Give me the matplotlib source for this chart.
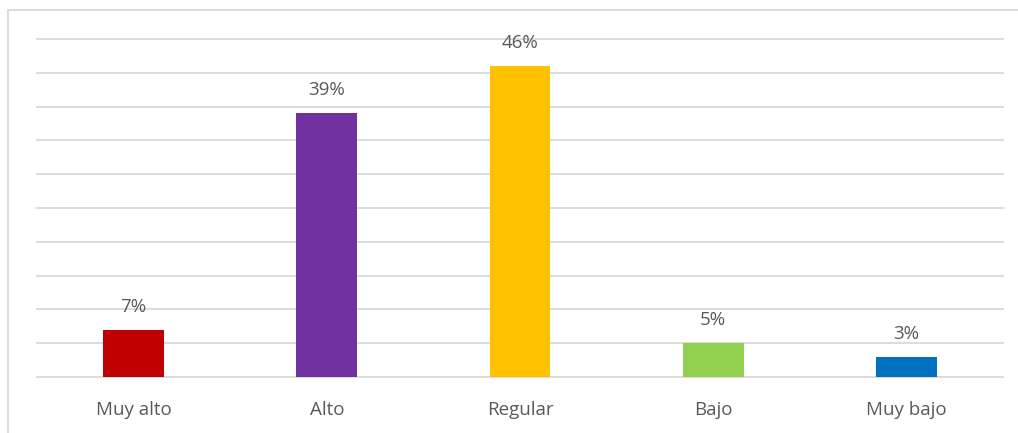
import matplotlib.pyplot as plt
from matplotlib.patches import Rectangle

categorias = ["Muy alto", "Alto", "Regular", "Bajo", "Muy bajo"]
porcentajes = [7, 39, 46, 5, 3]
colores = ["#C00000", "#7030A0", "#FFC000", "#92D050", "#0070C0"]

plt.rcParams['font.family'] = ['Open Sans', 'DejaVu Sans']
texto = "#595959"

fig = plt.figure(figsize=(10.18, 4.33), dpi=100)
ax = fig.add_axes([37/1018, 1 - 377/433, 966/1018, 338/433])

x = range(len(categorias))
ax.bar(x, porcentajes, width=0.315, color=colores, zorder=3)
for xi, v in zip(x, porcentajes):
    ax.annotate(f"{v}%", (xi, v), xytext=(0, 10), textcoords="offset points",
                ha="center", va="bottom", fontsize=13.5, color=texto)

ax.set_xlim(-0.5, len(categorias) - 0.5)
ax.set_ylim(0, 50)
ax.set_yticks(range(0, 51, 5))
ax.set_yticklabels([])
ax.grid(axis="y", color="#D9D9D9", linewidth=1.3, zorder=0)
for g in ax.get_ygridlines():
    g.set_clip_on(False)
ax.set_xticks(list(x))
ax.set_xticklabels(categorias, fontsize=13.5, color=texto)
ax.tick_params(axis="both", length=0, pad=17)
for s in ax.spines.values():
    s.set_visible(False)

# marco gris del gráfico
fig.patches.append(Rectangle((8/1018, -0.1), 1.1, 1 - 10/433 + 0.1,
                             transform=fig.transFigure, fill=False,
                             edgecolor="#D9D9D9", linewidth=1.3))

fig.savefig("out.png", dpi=100)
